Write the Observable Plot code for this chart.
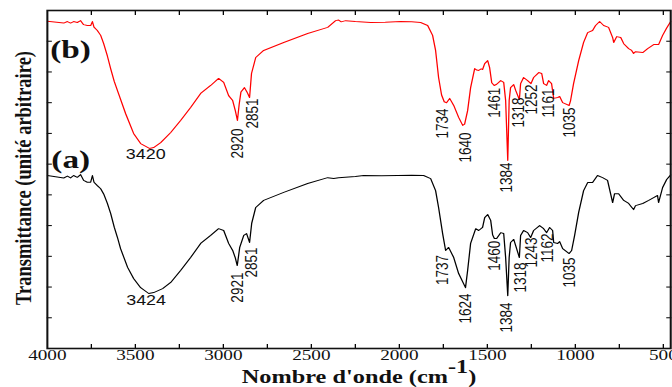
<!DOCTYPE html>
<html><head><meta charset="utf-8">
<script src="https://cdn.jsdelivr.net/npm/d3@7"></script>
<script src="https://cdn.jsdelivr.net/npm/@observablehq/plot@0.6"></script>
<style>html,body{margin:0;padding:0;background:#fff;} #chart{width:672px;height:387px;overflow:hidden;}</style>
</head><body><div id="chart"></div>
<script>
// Spectrum (b) - red
const waveB = [4000,3907,3886,3868,3851,3830,3811,3794,3773,3754,3744,3735,3716,3697,3680,3659,3640,3620,3595,3555,3510,3470,3420,3396,3356,3299,3243,3186,3129,3072,3027,2998,2970,2947,2932,2920,2910,2900,2880,2866,2851,2840,2816,2771,2657,2521,2407,2362,2345,2330,2305,2250,2163,2080,1993,1930,1879,1839,1811,1794,1777,1760,1745,1732,1714,1691,1663,1640,1629,1612,1595,1572,1560,1549,1535,1527,1515,1498,1487,1475,1461,1447,1424,1407,1396,1384,1376,1368,1350,1339,1318,1311,1294,1271,1252,1237,1208,1191,1180,1163,1152,1135,1123,1100,1089,1072,1035,1027,1010,981,953,930,902,885,862,839,811,788,782,765,742,725,697,680,669,658,617,589,555,527,504,481,458];
const transB = [106.5,105.9,106.4,105.9,106.4,106.1,106.7,105.4,105.1,105.1,106.4,104.6,103.5,101.9,99.2,95.2,91.0,86.9,82.9,76.4,70.0,66.7,65.1,65.4,67.0,70.3,74.2,78.4,83.0,85.6,87.9,86.6,82.3,80.7,77.4,74.2,79.5,83.5,84.9,83.5,81.7,89.5,94.7,97.0,99.6,102.5,104.5,106.7,106.9,106.3,106.7,106.4,106.1,106.2,106.4,106.3,106.1,105.1,101.9,97.0,88.2,82.5,80.3,80.0,81.4,79.1,75.2,72.6,73.0,77.4,84.9,91.1,90.6,90.5,91.0,90.8,92.7,93.7,91.4,86.5,85.6,86.0,87.2,86.6,80.7,61.2,80.7,84.9,85.9,84.0,81.0,86.2,88.2,87.2,86.2,88.2,89.8,89.5,86.2,85.6,87.2,86.2,81.4,81.7,82.0,80.0,79.1,80.7,86.2,93.7,99.6,102.8,103.5,105.1,106.4,105.1,104.5,101.2,99.6,101.5,101.2,99.2,97.6,97.0,96.0,96.6,96.3,97.6,98.9,98.9,101.9,104.3,106.4];

// Spectrum (a) - black
const waveA = [4000,3907,3886,3868,3851,3830,3811,3794,3773,3754,3744,3735,3716,3697,3680,3659,3640,3620,3602,3584,3544,3510,3470,3424,3396,3345,3299,3243,3186,3129,3072,3027,2998,2970,2947,2932,2921,2907,2884,2868,2851,2839,2816,2771,2657,2521,2407,2373,2345,2250,2203,2100,2010,1930,1862,1822,1794,1777,1754,1737,1720,1691,1663,1624,1612,1595,1566,1549,1527,1515,1498,1481,1470,1460,1447,1424,1407,1396,1384,1376,1368,1350,1339,1318,1311,1294,1271,1254,1237,1203,1180,1163,1146,1129,1123,1100,1089,1072,1035,1021,1004,981,953,930,902,874,845,817,788,777,754,725,697,680,669,658,617,583,555,533,527,504,481,458];
const transA = [56.3,55.5,56.1,55.5,56.3,55.7,56.6,54.7,54.1,54.1,56.3,54.1,53.0,52.0,50.3,47.2,43.9,39.5,36.2,32.5,26.4,22.8,19.8,17.9,18.2,19.5,21.5,25.4,29.6,34.2,36.8,39.0,38.4,34.2,31.9,29.5,27.0,32.9,36.8,37.4,34.5,40.7,45.9,48.2,50.8,53.7,55.6,55.3,55.6,56.0,56.3,56.2,56.3,56.4,56.3,55.3,51.4,45.9,37.4,31.9,32.9,29.6,24.4,19.8,25.4,34.2,39.0,38.4,39.4,42.6,43.6,41.7,37.0,35.8,35.8,37.7,37.4,29.6,17.2,29.6,34.5,35.5,33.5,29.6,36.8,38.4,37.7,36.1,38.4,40.0,39.0,37.7,39.4,38.4,34.5,34.2,34.8,32.5,30.9,31.9,36.8,44.3,51.4,54.0,54.0,56.3,55.6,54.7,47.5,50.4,50.4,48.2,47.2,46.0,45.2,46.5,47.2,48.2,49.1,49.8,47.5,52.4,55.0,56.5];

// Peak annotations (label, wavenumber where it sits, transmittance level)
const vLabelsB = ["2920","2851","1734","1640","1461","1384","1318","1252","1161","1035"];
const vLabelsBx = [2922,2836,1757,1623,1458,1390,1322,1248,1152,1032];
const vLabelsBy = [71.6,81.4,78.1,70.3,84.9,60.5,81.7,85.9,84.6,78.4];
const vLabelsA = ["2921","2851","1737","1624","1460","1384","1318","1243","1162","1035"];
const vLabelsAx = [2922,2842,1757,1623,1461,1390,1311,1248,1157,1032];
const vLabelsAy = [24.7,32.9,30.4,17.9,35.1,15.0,28.0,36.1,37.4,29.6];
const hLabels = ["3420","3424"];
const hLabelsX = [3441,3439];
const hLabelsY = [63.1,15.6];
const panelNames = ["(b)","(a)"];
const panelX = [3868,3867];
const panelY = [97.4,61.3];

const xTickValues = [4000,3500,3000,2500,2000,1500,1000,500];
const xMinorTicks = [3750,3500,3250,3000,2750,2500,2250,2000,1750,1500,1250,1000,750,500];
const yTickValues = [10,20,30,40,50,60,70,80,90,100];
const xTitle = "Nombre d'onde (cm-1)";
const yTitle = "Transmittance (unité arbitraire)";

const seriesB = waveB.map((w, i) => ({w, t: transB[i]}));
const seriesA = waveA.map((w, i) => ({w, t: transA[i]}));
const vB = vLabelsB.map((s, i) => ({s, w: vLabelsBx[i], t: vLabelsBy[i]}));
const vA = vLabelsA.map((s, i) => ({s, w: vLabelsAx[i], t: vLabelsAy[i]}));
const hL = hLabels.map((s, i) => ({s, w: hLabelsX[i], t: hLabelsY[i]}));
const pN = panelNames.map((s, i) => ({s, w: panelX[i], t: panelY[i]}));

const W = 525, H = 387;
const serif = "'Liberation Serif','Times New Roman',serif";
const sans = "'Liberation Sans',Arial,sans-serif";

const svg = Plot.plot({
  width: W, height: H,
  marginLeft: 36.5, marginRight: 1.5, marginTop: 10, marginBottom: 39,
  x: {domain: [4000, 458], label: null},
  y: {domain: [0, 110], label: null},
  style: {fontFamily: serif, background: "#fff", color: "#000"},
  marks: [
    Plot.axisX({anchor: "bottom", ticks: xMinorTicks, tickSize: -4, fill: "none", label: null, stroke: "#000"}),
    Plot.axisX({anchor: "top", ticks: xMinorTicks, tickSize: -4, fill: "none", label: null, stroke: "#000"}),
    Plot.axisY({anchor: "left", ticks: yTickValues, tickSize: -4, fill: "none", label: null, stroke: "#000"}),
    Plot.axisY({anchor: "right", ticks: yTickValues, tickSize: -4, fill: "none", label: null, stroke: "#000"}),
    Plot.axisX({anchor: "bottom", ticks: xTickValues, tickSize: 0, tickPadding: 1, label: null, fontSize: 15, fontFamily: serif, fill: "#111", tickFormat: d => String(d)}),
    Plot.line(seriesB, {x: "w", y: "t", stroke: "#ff0000", strokeWidth: 1}),
    Plot.line(seriesA, {x: "w", y: "t", stroke: "#000", strokeWidth: 1}),
    Plot.frame({stroke: "#111", strokeWidth: 1.6}),
    Plot.text(vB, {x: "w", y: "t", text: "s", rotate: -90, textAnchor: "end", fontFamily: sans, fontSize: 13.5, fill: "#111"}),
    Plot.text(vA, {x: "w", y: "t", text: "s", rotate: -90, textAnchor: "end", fontFamily: sans, fontSize: 13.5, fill: "#111"}),
    Plot.text(hL, {x: "w", y: "t", text: "s", fontFamily: sans, fontSize: 14, fill: "#111"}),
    Plot.text(pN, {x: "w", y: "t", text: "s", fontFamily: serif, fontSize: 26, fontWeight: "bold", fill: "#111"}),
    Plot.text([yTitle], {text: d => d, frameAnchor: "left", textAnchor: "middle", rotate: -90, dx: -18.9, dy: -1.5, fontFamily: serif, fontSize: 18.5, fontWeight: "bold", fill: "#111"}),
    Plot.text([xTitle], {text: d => d, frameAnchor: "bottom", lineAnchor: "bottom", dy: 34.7, fontFamily: serif, fontSize: 19, fontWeight: "bold", fill: "#111"})
  ]
});

// stretch horizontally like the reference picture
svg.setAttribute("viewBox", `0 0 ${W} ${H}`);
svg.setAttribute("width", 672);
svg.setAttribute("height", 387);
svg.setAttribute("preserveAspectRatio", "none");
svg.style.width = "672px";
svg.style.height = "387px";
svg.style.maxWidth = "none";

d3.select(svg).selectAll("text").filter(function () { return this.textContent === xTitle; }).each(function () {
  const t = d3.select(this);
  t.text("");
  t.append("tspan").text("Nombre d'onde (cm");
  t.append("tspan").attr("dy", -10).text("-1");
  t.append("tspan").attr("dy", 10).text(")");
});

document.getElementById("chart").appendChild(svg);
</script>
</body></html>
